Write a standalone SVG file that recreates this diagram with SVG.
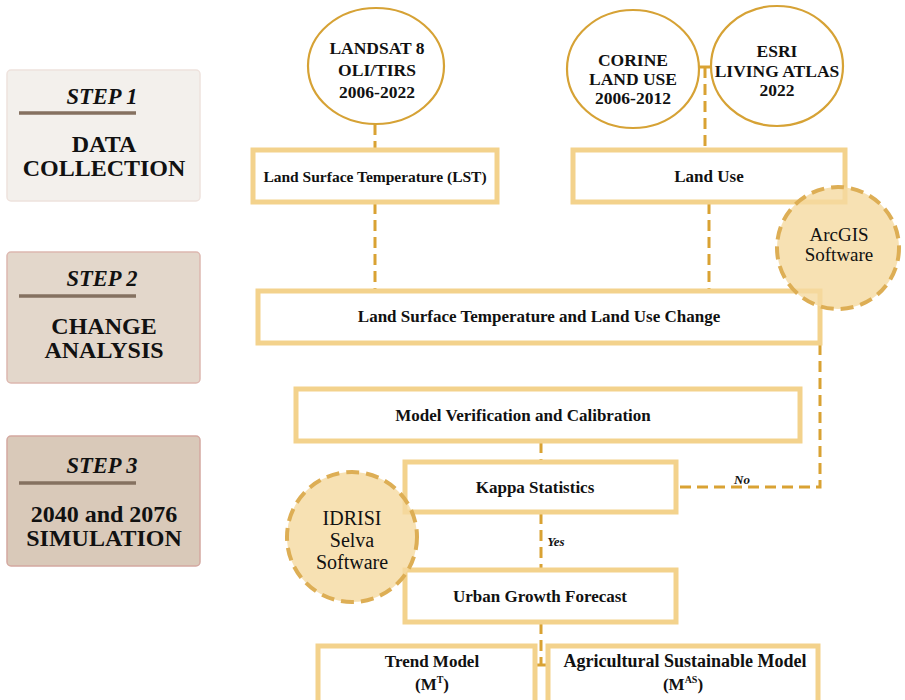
<svg xmlns="http://www.w3.org/2000/svg" width="905" height="700" viewBox="0 0 905 700">
<style>
.box{fill:#fff;stroke:#F3D28C;stroke-width:5}
.ell{fill:#fff;stroke:#D6A235;stroke-width:2.2}
.soft{fill:#F5D9A0;fill-opacity:0.8;stroke:#DDAE55;stroke-width:4;stroke-dasharray:13 7}
.dash{fill:none;stroke:#D9A233;stroke-width:3;stroke-dasharray:11 6}
.solid{fill:none;stroke:#D9A233;stroke-width:3}
text{font-family:'Liberation Serif','Times New Roman',Times,'DejaVu Serif',serif;fill:#111;text-anchor:middle}
.t{font-weight:bold}
.bx{font-size:17px}
.el{font-size:17.5px}
.sh{font-size:22.5px;font-style:italic}
.sb{font-size:24px}
.rule{stroke:#857160;stroke-width:3.5}
</style>
<g id="step1">
<rect x="7" y="70" width="193" height="131" rx="4" fill="#F3F0EC" stroke="#EEE2DD" stroke-width="1.5"/>
<text class="t sh" x="102" y="104">STEP 1</text>
<line class="rule" x1="19" y1="113" x2="136" y2="113"/>
<text class="t sb" x="104" y="152">DATA</text>
<text class="t sb" x="104" y="176">COLLECTION</text>
</g>
<g id="step2">
<rect x="7" y="252" width="193" height="131" rx="4" fill="#E3D7CB" stroke="#DDB8B0" stroke-width="1.5"/>
<text class="t sh" x="102" y="286">STEP 2</text>
<line class="rule" x1="19" y1="296" x2="136" y2="296"/>
<text class="t sb" x="104" y="334">CHANGE</text>
<text class="t sb" x="104" y="358">ANALYSIS</text>
</g>
<g id="step3">
<rect x="7" y="436" width="193" height="130" rx="4" fill="#D9C9B9" stroke="#D4A8A0" stroke-width="1.5"/>
<text class="t sh" x="102" y="473">STEP 3</text>
<line class="rule" x1="19" y1="483" x2="136" y2="483"/>
<text class="t sb" x="104" y="522">2040 and 2076</text>
<text class="t sb" x="104" y="546">SIMULATION</text>
</g>
<g id="connectors">
<line class="dash" x1="375" y1="124" x2="375" y2="150"/>
<line class="solid" x1="699" y1="67" x2="711" y2="67"/>
<line class="dash" x1="705" y1="67" x2="705" y2="150"/>
<line class="dash" x1="375" y1="203" x2="375" y2="290"/>
<line class="dash" x1="709" y1="203" x2="709" y2="290"/>
<polyline class="dash" points="820,344 820,487 677,487"/>
<line class="dash" x1="541" y1="442" x2="541" y2="462"/>
<line class="dash" x1="541" y1="513" x2="541" y2="569"/>
<line class="dash" x1="541" y1="623" x2="541" y2="664"/>
<line class="solid" x1="535" y1="665" x2="548" y2="665"/>
<text class="t" x="742" y="484" font-size="13" font-style="italic">No</text>
<text class="t" x="556" y="546" font-size="13" font-style="italic">Yes</text>
</g>
<g id="landsat">
<ellipse class="ell" cx="376" cy="66" rx="68" ry="58"/>
<text class="t el" x="377" y="54">LANDSAT 8</text>
<text class="t el" x="377" y="76">OLI/TIRS</text>
<text class="t el" x="377" y="98">2006-2022</text>
</g>
<g id="corine">
<ellipse class="ell" cx="633" cy="69" rx="66" ry="59"/>
<text class="t el" x="633" y="66">CORINE</text>
<text class="t el" x="633" y="85">LAND USE</text>
<text class="t el" x="633" y="104">2006-2012</text>
</g>
<g id="esri">
<ellipse class="ell" cx="777" cy="66" rx="66" ry="60"/>
<text class="t el" x="777" y="57">ESRI</text>
<text class="t el" x="777" y="77">LIVING ATLAS</text>
<text class="t el" x="777" y="96">2022</text>
</g>
<g id="lst">
<rect class="box" x="253" y="150" width="244" height="52"/>
<text class="t" x="375" y="182" font-size="15.5">Land Surface Temperature (LST)</text>
</g>
<g id="landuse">
<rect class="box" x="573" y="150" width="272" height="52"/>
<text class="t bx" x="709" y="182">Land Use</text>
</g>
<g id="change">
<rect class="box" x="258" y="291" width="562" height="52"/>
<text class="t bx" x="539" y="322">Land Surface Temperature and Land Use Change</text>
</g>
<g id="verification">
<rect class="box" x="296" y="389" width="504" height="52"/>
<text class="t bx" x="523" y="421">Model Verification and Calibration</text>
</g>
<g id="kappa">
<rect class="box" x="405" y="462" width="271" height="50"/>
<text class="t bx" x="535" y="493">Kappa Statistics</text>
</g>
<g id="urban">
<rect class="box" x="405" y="570" width="271" height="52"/>
<text class="t bx" x="540" y="602">Urban Growth Forecast</text>
</g>
<g id="trend">
<rect class="box" x="318" y="646" width="217" height="60"/>
<text class="t bx" x="432" y="667">Trend Model</text>
<text class="t bx" x="432" y="690">(M<tspan font-size="10" dy="-7">T</tspan><tspan dy="7">)</tspan></text>
</g>
<g id="agri">
<rect class="box" x="548" y="646" width="270" height="60"/>
<text class="t" x="685" y="667" font-size="18">Agricultural Sustainable Model</text>
<text class="t bx" x="683" y="690">(M<tspan font-size="10" dy="-7">AS</tspan><tspan dy="7">)</tspan></text>
</g>
<g id="arcgis">
<circle class="soft" cx="838" cy="248" r="61"/>
<text x="839" y="241" font-size="19">ArcGIS</text>
<text x="839" y="261" font-size="19">Software</text>
</g>
<g id="idrisi">
<circle class="soft" cx="352" cy="537" r="65"/>
<text x="352" y="525" font-size="20">IDRISI</text>
<text x="352" y="547" font-size="20">Selva</text>
<text x="352" y="569" font-size="20">Software</text>
</g>
</svg>
